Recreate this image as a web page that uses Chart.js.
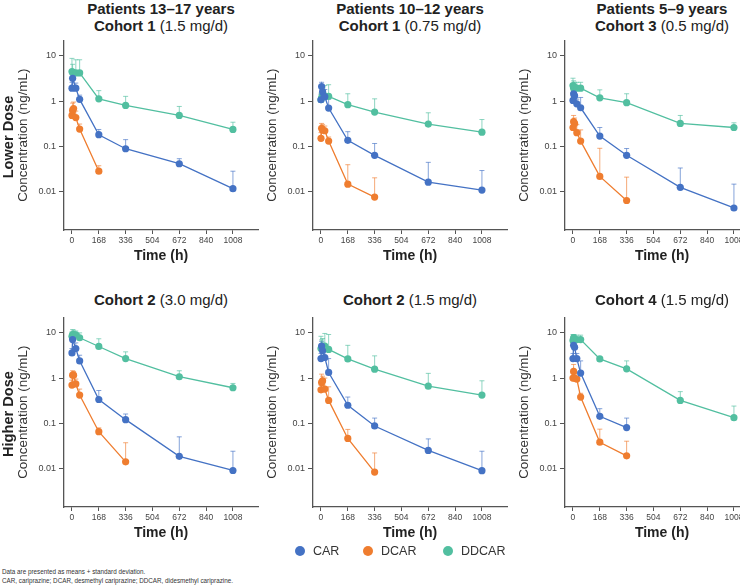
<!DOCTYPE html>
<html lang="en">
<head>
<meta charset="UTF-8">
<title>Cariprazine concentrations over time</title>
<script src="https://cdn.jsdelivr.net/npm/chart.js"></script>
<style>
  html, body { margin: 0; padding: 0; background: #fff; overflow: hidden; }
  body { font-family: "Liberation Sans", Arial, sans-serif; color: #222; }
  #fig { position: relative; width: 740px; height: 586px; overflow: hidden; }
  #fig canvas { position: absolute; }
  .ttl { position: absolute; width: 260px; margin-left: -130px; text-align: center;
         font-size: 15px; line-height: 17px; white-space: nowrap; color: #222; }
  .row { position: absolute; font-weight: bold; font-size: 14.6px; white-space: nowrap; color: #222;
         transform: translate(-50%, -50%) rotate(-90deg); }
  .legend { position: absolute; top: 543px; left: 0; font-size: 12.5px; color: #333; }
  .legend span { position: absolute; white-space: nowrap; line-height: 16px; }
  .dot { width: 10px; height: 10px; border-radius: 50%; margin-top: 3px; }
  .note { position: absolute; left: 2px; font-size: 6.3px; color: #333; white-space: nowrap; }
</style>
</head>
<body>
<div id="fig"></div>
<script>
// sampling times (h)
const TIMES = [0, 4, 10, 24, 48, 168, 336, 672, 1008];
const X_TICKS = [0, 168, 336, 504, 672, 840, 1008];
const Y_TICKS = [0.01, 0.1, 1, 10];
const SERIES = ['CAR', 'DCAR', 'DDCAR'];
const COLORS = ['#4472c4', '#ef7d2f', '#52bfa0'];

// means and mean + SD (ng/mL)
// Patients 13-17 years, cohort 1 (1.5 mg/d)
const p1Car    = [1.93, 3.2, null, 1.93, 1.09, 0.18, 0.088, 0.041, 0.0115];
const p1CarU   = [2.6, 5.0, null, 2.5, 1.35, 0.235, 0.14, 0.053, 0.028];
const p1Dcar   = [0.48, 0.62, 0.68, 0.43, 0.24, 0.028, null, null, null];
const p1DcarU  = [0.7, 0.9, 0.95, 0.6, 0.31, 0.037, null, null, null];
const p1Ddcar  = [4.5, 4.3, null, 4.2, 4.2, 1.12, 0.80, 0.48, 0.235];
const p1DdcarU = [8.8, 6.5, null, 8.2, 8.2, 1.7, 1.27, 0.76, 0.34];
// Patients 10-12 years, cohort 1 (0.75 mg/d)
const p2Car    = [1.07, 2.1, 1.6, 1.25, 0.70, 0.135, 0.063, 0.016, 0.0107];
const p2CarU   = [1.4, 2.6, 2.2, 1.8, 1.1, 0.21, 0.115, 0.044, 0.029];
const p2Dcar   = [0.15, 0.25, 0.23, 0.22, 0.13, 0.0145, 0.0075, null, null];
const p2DcarU  = [0.2, 0.32, 0.3, 0.28, 0.16, 0.039, 0.020, null, null];
const p2Ddcar  = [1.07, 1.2, 1.33, 1.3, 1.27, 0.83, 0.57, 0.31, 0.205];
const p2DdcarU = [1.5, 2.2, 2.0, 2.2, 2.3, 1.45, 1.12, 0.55, 0.39];
// Patients 5-9 years, cohort 3 (0.5 mg/d)
const p3Car    = [1.03, 1.45, 1.3, 0.87, 0.71, 0.168, 0.063, 0.0123, 0.0043];
const p3CarU   = [1.3, 1.9, 1.7, 1.1, 1.2, 0.26, 0.089, 0.033, 0.0145];
const p3Dcar   = [0.26, 0.35, 0.32, 0.2, 0.13, 0.0215, 0.0063, null, null];
const p3DcarU  = [0.35, 0.48, 0.42, 0.30, 0.23, 0.09, 0.0207, null, null];
const p3Ddcar  = [2.2, 1.93, 2.0, 1.93, 1.93, 1.18, 0.92, 0.32, 0.26];
const p3DdcarU = [3.2, 2.8, 2.6, 2.6, 2.6, 1.77, 1.45, 0.48, 0.33];
// cohort 2 (3.0 mg/d)
const p4Car    = [3.6, 7.1, null, 4.5, 2.4, 0.335, 0.12, 0.0185, 0.009];
const p4CarU   = [4.5, 9.5, null, 6.0, 3.2, 0.53, 0.16, 0.05, 0.024];
const p4Dcar   = [0.70, 1.16, 1.16, 0.74, 0.42, 0.065, 0.014, null, null];
const p4DcarU  = [0.9, 1.45, 1.4, 0.95, 0.57, 0.079, 0.037, null, null];
const p4Ddcar  = [8.4, 9.2, 9.2, 9.0, 7.8, 5.0, 2.7, 1.07, 0.61];
const p4DdcarU = [10.5, 11.8, 11.5, 11.0, 10, 7.4, 3.8, 1.45, 0.76];
// cohort 2 (1.5 mg/d)
const p5Car    = [2.7, 5.1, 4.0, 2.85, 1.33, 0.25, 0.087, 0.025, 0.0089];
const p5CarU   = [3.5, 6.5, 5.5, 4.0, 2.7, 0.38, 0.13, 0.045, 0.024];
const p5Dcar   = [0.55, 0.8, 0.87, 0.57, 0.32, 0.046, 0.0083, null, null];
const p5DcarU  = [0.7, 1.22, 1.1, 1.0, 0.64, 0.073, 0.022, null, null];
const p5Ddcar  = [4.5, 4.6, 5.1, 5.1, 4.3, 2.65, 1.57, 0.66, 0.42];
const p5DdcarU = [8.4, 7.0, 7.5, 9.7, 9.2, 5.3, 3.1, 1.27, 0.87];
// cohort 4 (1.5 mg/d)
const p6Car    = [2.7, 5.3, 4.8, 2.7, 1.29, 0.142, 0.08, null, null];
const p6CarU   = [3.5, 7.8, 6.5, 3.5, 2.4, 0.21, 0.13, null, null];
const p6Dcar   = [1.0, 1.4, 1.0, 0.95, 0.38, 0.038, 0.019, null, null];
const p6DcarU  = [1.3, 2.0, 1.4, 1.3, 0.46, 0.074, 0.04, null, null];
const p6Ddcar  = [6.8, 7.8, 7.1, 7.1, 7.1, 2.65, 1.6, 0.32, 0.133];
const p6DdcarU = [9.2, 9.2, 9.0, 8.9, 8.9, 2.9, 2.4, 0.5, 0.24];

const PANELS = [
  { title: ['Patients 13–17 years', 'Cohort 1', '(1.5 mg/d)'], mean: [p1Car, p1Dcar, p1Ddcar], upper: [p1CarU, p1DcarU, p1DdcarU], col: 0, row: 0 },
  { title: ['Patients 10–12 years', 'Cohort 1', '(0.75 mg/d)'], mean: [p2Car, p2Dcar, p2Ddcar], upper: [p2CarU, p2DcarU, p2DdcarU], col: 1, row: 0 },
  { title: ['Patients 5–9 years', 'Cohort 3', '(0.5 mg/d)'], mean: [p3Car, p3Dcar, p3Ddcar], upper: [p3CarU, p3DcarU, p3DdcarU], col: 2, row: 0 },
  { title: [null, 'Cohort 2', '(3.0 mg/d)'], mean: [p4Car, p4Dcar, p4Ddcar], upper: [p4CarU, p4DcarU, p4DdcarU], col: 0, row: 1 },
  { title: [null, 'Cohort 2', '(1.5 mg/d)'], mean: [p5Car, p5Dcar, p5Ddcar], upper: [p5CarU, p5DcarU, p5DdcarU], col: 1, row: 1 },
  { title: [null, 'Cohort 4', '(1.5 mg/d)'], mean: [p6Car, p6Dcar, p6Ddcar], upper: [p6CarU, p6DcarU, p6DdcarU], col: 2, row: 1 }
];

// layout
const COL_LEFT = [0, 249, 501];
const ROW_TOP = [32, 309];
const TITLE_TOP = [0, 291];
const CW = 264, CH = 236;

const fig = document.getElementById('fig');

// mean + SD whiskers, drawn under the lines
const errorBars = {
  id: 'errorBars',
  beforeDatasetsDraw(chart) {
    const { ctx, scales: { x, y } } = chart;
    ctx.save();
    ctx.lineWidth = 1;
    chart.data.datasets.forEach(ds => {
      ctx.strokeStyle = ds.errColor;
      ds.upper.forEach((u, i) => {
        const m = ds.means[i];
        if (u == null || m == null) return;
        const px = x.getPixelForValue(TIMES[i]);
        const y0 = y.getPixelForValue(m);
        const y1 = y.getPixelForValue(u);
        ctx.beginPath();
        ctx.moveTo(px, y0); ctx.lineTo(px, y1);
        ctx.moveTo(px - 2.5, y1); ctx.lineTo(px + 2.5, y1);
        ctx.stroke();
      });
    });
    ctx.restore();
  }
};

function rgba(hex, a) {
  const n = parseInt(hex.slice(1), 16);
  return `rgba(${n >> 16},${(n >> 8) & 255},${n & 255},${a})`;
}

PANELS.forEach(p => {
  const cx = COL_LEFT[p.col] + 64 + 97;
  const t = document.createElement('div');
  t.className = 'ttl';
  t.style.left = cx + 'px';
  t.style.top = TITLE_TOP[p.row] + 'px';
  t.innerHTML = (p.title[0] ? '<b>' + p.title[0] + '</b><br>' : '') + '<b>' + p.title[1] + '</b> ' + p.title[2];
  fig.appendChild(t);

  const cv = document.createElement('canvas');
  cv.width = CW; cv.height = CH;
  cv.style.left = COL_LEFT[p.col] + 'px';
  cv.style.top = ROW_TOP[p.row] + 'px';
  cv.style.width = CW + 'px'; cv.style.height = CH + 'px';
  fig.appendChild(cv);

  const datasets = SERIES.map((name, s) => ({
    label: name,
    data: TIMES.map((tt, i) => ({ x: tt, y: p.mean[s][i] })),
    means: p.mean[s],
    upper: p.upper[s],
    errColor: rgba(COLORS[s], 0.65),
    borderColor: COLORS[s],
    backgroundColor: COLORS[s],
    borderWidth: 1.3,
    pointRadius: 3.6,
    pointBorderWidth: 0,
    spanGaps: true,
    tension: 0
  }));

  new Chart(cv.getContext('2d'), {
    type: 'line',
    data: { datasets },
    plugins: [errorBars],
    options: {
      responsive: false,
      animation: false,
      layout: { padding: { top: 5, right: 6, left: 0, bottom: 0 } },
      plugins: { legend: { display: false }, tooltip: { enabled: false } },
      scales: {
        x: {
          type: 'linear', min: -50, max: 1165, bounds: 'data',
          afterBuildTicks: sc => { sc.ticks = X_TICKS.map(v => ({ value: v })); },
          afterFit: sc => { sc.height = 38; },
          grid: { display: true, drawOnChartArea: false, drawTicks: true, tickLength: 4, color: '#555' },
          border: { display: true, color: '#555', width: 1.3 },
          ticks: { font: { size: 8.5, family: 'Liberation Sans' }, color: '#444', padding: 2, maxRotation: 0, autoSkip: false,
                   callback: v => String(v) },
          title: { display: true, text: 'Time (h)', color: '#222', padding: { top: 0, bottom: 3 },
                   font: { size: 14, weight: 'bold', family: 'Liberation Sans' } }
        },
        y: {
          type: 'logarithmic', min: 0.0014, max: 22, bounds: 'data',
          afterBuildTicks: sc => { sc.ticks = Y_TICKS.map(v => ({ value: v })); },
          afterFit: sc => { sc.width = 64; },
          grid: { display: true, drawOnChartArea: false, drawTicks: true, tickLength: 5, color: '#555' },
          border: { display: true, color: '#555', width: 1.3 },
          ticks: { font: { size: 9, family: 'Liberation Sans' }, color: '#444', padding: 3,
                   callback: v => String(v) },
          title: { display: true, text: 'Concentration (ng/mL)', color: '#333', padding: { top: 15, bottom: 0 },
                   font: { size: 13.4, family: 'Liberation Sans' } }
        }
      }
    }
  });
});

// row labels
[['Lower Dose', 137], ['Higher Dose', 414]].forEach(([txt, cy]) => {
  const d = document.createElement('div');
  d.className = 'row';
  d.textContent = txt;
  d.style.left = '8px';
  d.style.top = cy + 'px';
  fig.appendChild(d);
});

// legend
const LEG_X = [300, 368, 448];
const leg = document.createElement('div');
leg.className = 'legend';
SERIES.forEach((name, s) => {
  leg.innerHTML += `<span class="dot" style="left:${LEG_X[s] - 5}px;background:${COLORS[s]}"></span>` +
                   `<span style="left:${LEG_X[s] + 13}px">${name}</span>`;
});
fig.appendChild(leg);

const notes = ['Data are presented as means + standard deviation.',
               'CAR, cariprazine; DCAR, desmethyl cariprazine; DDCAR, didesmethyl cariprazine.'];
notes.forEach((txt, i) => {
  const d = document.createElement('div');
  d.className = 'note';
  d.style.top = (568 + i * 8.5) + 'px';
  d.textContent = txt;
  fig.appendChild(d);
});
</script>
</body>
</html>
